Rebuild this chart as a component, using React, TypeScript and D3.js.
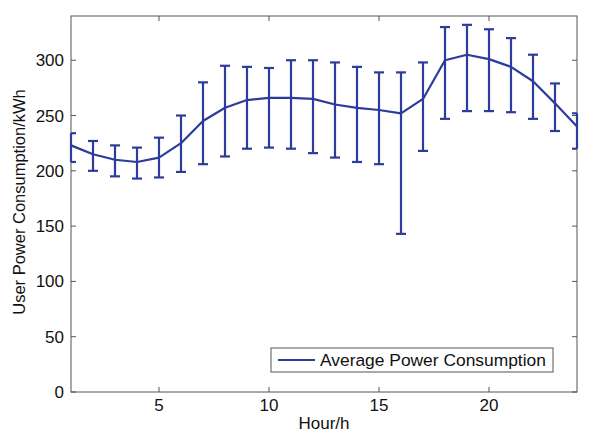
import React, { useEffect, useRef } from 'react';
import * as d3 from 'd3';

// hourly averages and error bar limits
const hours = [1, 2, 3, 4, 5, 6, 7, 8, 9, 10, 11, 12, 13, 14, 15, 16, 17, 18, 19, 20, 21, 22, 23, 24];
const meanKwh = [223, 215, 210, 208, 212, 225, 245, 257, 264, 266, 266, 265, 260, 257, 255, 252, 265, 300, 305, 301, 294, 281, 261, 240];
const upperKwh = [234, 227, 223, 221, 230, 250, 280, 295, 294, 293, 300, 300, 298, 294, 289, 289, 298, 330, 332, 328, 320, 305, 279, 252];
const lowerKwh = [208, 200, 195, 193, 194, 199, 206, 213, 220, 221, 220, 216, 212, 208, 206, 143, 218, 247, 254, 254, 253, 247, 236, 220];
const xTicks = [5, 10, 15, 20];
const yTicks = [0, 50, 100, 150, 200, 250, 300];

export default function App() {
  const ref = useRef<SVGSVGElement>(null);

  useEffect(() => {
    const svg = d3.select(ref.current);
    svg.selectAll('*').remove();
    const width = 601;
    const height = 440;
    const m = { left: 71, right: 24, top: 16, bottom: 48 };
    const blue = '#2c3c9c';
    const axisColor = '#555';
    const font = 'Liberation Sans, Arial, sans-serif';
    const fs = 17;

    svg.append('rect').attr('width', width).attr('height', height).attr('fill', '#fff');

    const x = d3.scaleLinear().domain([1, 24]).range([m.left, width - m.right]);
    const y = d3.scaleLinear().domain([0, 340]).range([height - m.bottom, m.top]);

    const [x0, x1] = x.range();
    const [y0, y1] = y.range();

    // box
    svg
      .append('rect')
      .attr('x', x0)
      .attr('y', y1)
      .attr('width', x1 - x0)
      .attr('height', y0 - y1)
      .attr('fill', 'none')
      .attr('stroke', axisColor)
      .attr('stroke-width', 1);

    const tick = 5;
    const tk = svg.append('g').attr('stroke', axisColor).attr('stroke-width', 1);
    xTicks.forEach((t) => {
      tk.append('line').attr('x1', x(t)).attr('x2', x(t)).attr('y1', y0).attr('y2', y0 - tick);
      tk.append('line').attr('x1', x(t)).attr('x2', x(t)).attr('y1', y1).attr('y2', y1 + tick);
    });
    yTicks.forEach((t) => {
      tk.append('line').attr('x1', x0).attr('x2', x0 + tick).attr('y1', y(t)).attr('y2', y(t));
      tk.append('line').attr('x1', x1).attr('x2', x1 - tick).attr('y1', y(t)).attr('y2', y(t));
    });

    svg
      .append('g')
      .selectAll('text')
      .data(xTicks)
      .join('text')
      .attr('x', (d) => x(d))
      .attr('y', y0 + 19)
      .attr('text-anchor', 'middle')
      .attr('font-family', font)
      .attr('font-size', fs)
      .attr('fill', '#111')
      .text((d) => d);

    svg
      .append('g')
      .selectAll('text')
      .data(yTicks)
      .join('text')
      .attr('x', x0 - 7)
      .attr('y', (d) => y(d) + 6)
      .attr('text-anchor', 'end')
      .attr('font-family', font)
      .attr('font-size', fs)
      .attr('fill', '#111')
      .text((d) => d);

    svg
      .append('text')
      .attr('x', (x0 + x1) / 2)
      .attr('y', 429)
      .attr('text-anchor', 'middle')
      .attr('font-family', font)
      .attr('font-size', fs)
      .attr('fill', '#111')
      .text('Hour/h');

    svg
      .append('text')
      .attr('transform', `translate(25,${(y0 + y1) / 2 - 2}) rotate(-90)`)
      .attr('text-anchor', 'middle')
      .attr('font-family', font)
      .attr('font-size', 16.5)
      .attr('fill', '#111')
      .text('User Power Consumption/kWh');

    const plot = svg.append('g');

    // error bars
    const cap = 5;
    const eb = plot.append('g').attr('stroke', blue).attr('stroke-width', 2.2);
    hours.forEach((h, i) => {
      const cx = x(h);
      const clipL = Math.max(cx - cap, x0);
      const clipR = Math.min(cx + cap, x1);
      eb.append('line').attr('x1', cx).attr('x2', cx).attr('y1', y(upperKwh[i])).attr('y2', y(lowerKwh[i]));
      eb.append('line').attr('x1', clipL).attr('x2', clipR).attr('y1', y(upperKwh[i])).attr('y2', y(upperKwh[i]));
      eb.append('line').attr('x1', clipL).attr('x2', clipR).attr('y1', y(lowerKwh[i])).attr('y2', y(lowerKwh[i]));
    });

    const line = d3
      .line<number>()
      .x((_, i) => x(hours[i]))
      .y((d) => y(d));

    plot
      .append('path')
      .datum(meanKwh)
      .attr('fill', 'none')
      .attr('stroke', blue)
      .attr('stroke-width', 2.2)
      .attr('stroke-linejoin', 'round')
      .attr('d', line);

    // legend
    const lg = svg.append('g');
    lg.append('rect')
      .attr('x', 271)
      .attr('y', 348)
      .attr('width', 282)
      .attr('height', 24)
      .attr('fill', '#fff')
      .attr('stroke', axisColor)
      .attr('stroke-width', 1);
    lg.append('line')
      .attr('x1', 278)
      .attr('x2', 315)
      .attr('y1', 360)
      .attr('y2', 360)
      .attr('stroke', blue)
      .attr('stroke-width', 2.2);
    lg.append('text')
      .attr('x', 320)
      .attr('y', 366)
      .attr('font-family', font)
      .attr('font-size', 17.4)
      .attr('fill', '#111')
      .text('Average Power Consumption');
  }, []);

  return (
    <svg
      ref={ref}
      width={601}
      height={440}
      style={{ position: 'absolute', left: 0, top: 0, display: 'block' }}
    ></svg>
  );
}
